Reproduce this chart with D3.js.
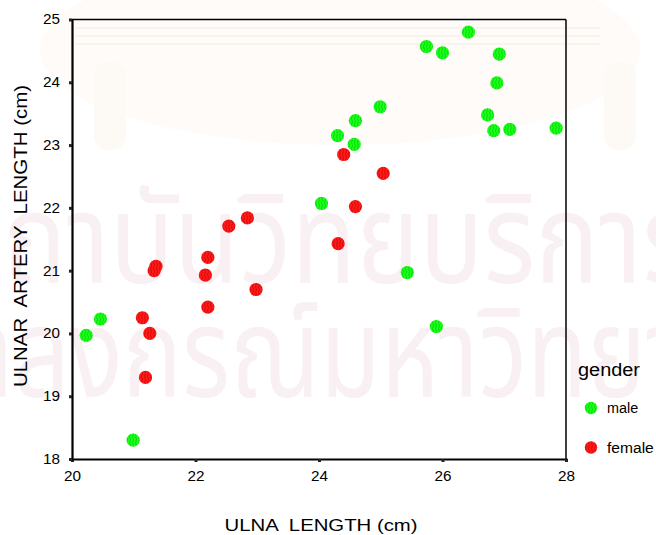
<!DOCTYPE html>
<html>
<head>
<meta charset="utf-8">
<script src="https://cdn.jsdelivr.net/npm/d3@7"></script>
<style>
  html, body { margin: 0; padding: 0; background: #ffffff; }
  svg { display: block; font-family: Arial, "Liberation Sans", sans-serif; }
</style>
</head>
<body>
<div id="chart"></div>
<script>
// Ulna length vs ulnar artery length, by gender
const maleUlna   = [20.23, 20.46, 20.99, 24.04, 24.30, 24.59, 24.57, 24.99, 25.43, 25.90, 25.74, 26.00, 26.42, 26.92, 26.88, 26.73, 26.83, 27.09, 27.84];
const maleArtery = [19.97, 20.23, 18.30, 22.07, 23.15, 23.39, 23.01, 23.61, 20.97, 20.11, 24.57, 24.47, 24.80, 24.45, 23.99, 23.48, 23.23, 23.25, 23.27];

const femaleUlna   = [21.14, 21.26, 21.19, 21.33, 21.36, 22.16, 22.20, 22.20, 22.54, 22.84, 22.98, 24.31, 24.40, 24.59, 25.04];
const femaleArtery = [20.25, 20.00, 19.30, 21.00, 21.07, 20.93, 20.42, 21.21, 21.71, 21.84, 20.70, 21.43, 22.85, 22.02, 22.55];

const xTicks = [20, 22, 24, 26, 28];
const yTicks = [18, 19, 20, 21, 22, 23, 24, 25];

const groups = [
  { key: "male",   label: "male",   fill: "#1aff1a", stripe: "#00c800", xs: maleUlna,   ys: maleArtery },
  { key: "female", label: "female", fill: "#ff1a1a", stripe: "#c80000", xs: femaleUlna, ys: femaleArtery }
];

const W = 656, H = 535;
const svg = d3.select("#chart").append("svg").attr("width", W).attr("height", H);

// Background watermark: faint seal and institutional text
const wm = svg.append("g");
wm.append("ellipse").attr("cx", 340).attr("cy", 50).attr("rx", 300).attr("ry", 95).attr("fill", "#fefbf9");
[28, 36, 44].forEach(yy => {
  wm.append("line").attr("x1", 75).attr("x2", 600).attr("y1", yy).attr("y2", yy)
    .attr("stroke", "#f9f4ee").attr("stroke-width", 2);
});
[110, 620].forEach(cx => {
  wm.append("rect").attr("x", cx - 16).attr("y", 62).attr("width", 32).attr("height", 88)
    .attr("rx", 14).attr("fill", "#fdf9f5");
});
const wmText = wm.append("g").attr("fill", "#f8f0f3")
  .attr("font-family", "'Noto Sans Thai', 'Noto Sans', sans-serif").attr("font-size", 125)
  .attr("text-anchor", "middle");
wmText.append("text").attr("transform", "translate(318,283) scale(0.85,1)").text("สถาบันวิทยบริการ");
wmText.append("text").attr("transform", "translate(328,397) scale(0.79,1)").text("จุฬาลงกรณ์มหาวิทยาลัย");

// Hatched fills for the markers
const defs = svg.append("defs");
groups.forEach(g => {
  const p = defs.append("pattern").attr("id", "pat-" + g.key)
    .attr("patternUnits", "userSpaceOnUse").attr("width", 3).attr("height", 6);
  p.append("rect").attr("width", 3).attr("height", 6).attr("fill", g.fill);
  p.append("path").attr("d", "M1,0 Q2,1.5 1,3 Q0,4.5 1,6")
    .attr("fill", "none").attr("stroke", g.stripe).attr("stroke-width", 0.7);
});

const x = d3.scaleLinear().domain([20, 28]).range([72, 566]);
const y = d3.scaleLinear().domain([18, 25]).range([459, 19.5]);

// Frame: top and right edges
svg.append("line").attr("x1", x(20)).attr("x2", x(28)).attr("y1", y(25)).attr("y2", y(25))
  .attr("stroke", "#000").attr("stroke-width", 1.5);
svg.append("line").attr("x1", x(28)).attr("x2", x(28)).attr("y1", y(25)).attr("y2", y(18))
  .attr("stroke", "#000").attr("stroke-width", 1.5);

// Axes
const xAxis = svg.append("g").attr("transform", `translate(0,${y(18)})`)
  .call(d3.axisBottom(x).tickValues(xTicks).tickSize(3).tickPadding(9).tickFormat(d3.format("d")));
const yAxis = svg.append("g").attr("transform", `translate(${x(20)},0)`)
  .call(d3.axisLeft(y).tickValues(yTicks).tickSize(3).tickPadding(9).tickFormat(d3.format("d")));

[xAxis, yAxis].forEach(a => {
  a.select(".domain").attr("stroke", "#000").attr("stroke-width", 2.2);
  a.selectAll(".tick line").attr("stroke", "#222").attr("stroke-width", 3);
  a.selectAll(".tick text").attr("fill", "#000").attr("font-size", 14)
    .attr("font-family", "Arial, 'Liberation Sans', sans-serif")
    .attr("textLength", 17).attr("lengthAdjust", "spacingAndGlyphs");
});

// Points
groups.forEach(g => {
  svg.append("g").selectAll("circle")
    .data(g.xs.map((v, i) => [v, g.ys[i]]))
    .join("circle")
    .attr("cx", d => x(d[0]))
    .attr("cy", d => y(d[1]))
    .attr("r", 6.6)
    .attr("fill", `url(#pat-${g.key})`);
});

// Axis titles
svg.append("text").attr("x", 321).attr("y", 531).attr("text-anchor", "middle")
  .attr("font-size", 16.5).attr("fill", "#000").attr("xml:space", "preserve")
  .attr("textLength", 193).attr("lengthAdjust", "spacingAndGlyphs")
  .text("ULNA  LENGTH (cm)");
svg.append("text").attr("transform", "translate(27,236) rotate(-90)").attr("text-anchor", "middle")
  .attr("font-size", 18.5).attr("fill", "#000").attr("xml:space", "preserve")
  .attr("textLength", 302).attr("lengthAdjust", "spacingAndGlyphs")
  .text("ULNAR  ARTERY  LENGTH (cm)");

// Legend
const legend = svg.append("g");
legend.append("text").attr("x", 578).attr("y", 376).attr("font-size", 18).attr("fill", "#000")
  .attr("textLength", 62).attr("lengthAdjust", "spacingAndGlyphs").text("gender");
groups.forEach((g, i) => {
  const cy = 408 + i * 39.5;
  legend.append("circle").attr("cx", 591).attr("cy", cy).attr("r", 6.2).attr("fill", `url(#pat-${g.key})`);
  legend.append("text").attr("x", 607).attr("y", cy + 5).attr("font-size", 14).attr("fill", "#000")
    .attr("textLength", g.label.length * 7.8).attr("lengthAdjust", "spacingAndGlyphs")
    .text(g.label);
});
</script>
</body>
</html>
